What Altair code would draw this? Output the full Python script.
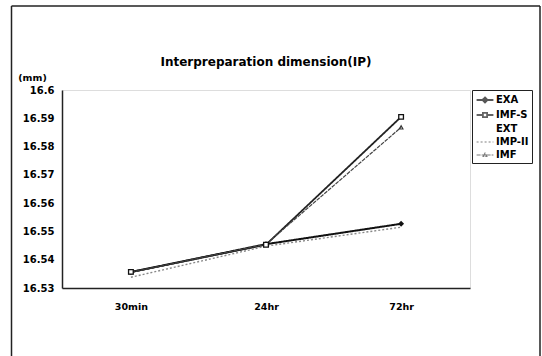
import altair as alt
import pandas as pd

times = ["30min", "24hr", "72hr"]
series = ["EXA", "IMF-S", "EXT", "IMP-II", "IMF"]
exa = [16.5356, 16.5455, 16.5527]
imf_s = [16.5357, 16.5453, 16.5905]
ext = [16.5355, 16.5455, 16.5525]
imp_ii = [16.5338, 16.5448, 16.5515]
imf = [16.5355, 16.5455, 16.5868]
y_ticks = [16.53, 16.54, 16.55, 16.56, 16.57, 16.58, 16.59, 16.6]

rows = []
for name, vals in zip(series, [exa, imf_s, ext, imp_ii, imf]):
    for i, (t, v) in enumerate(zip(times, vals)):
        rows.append({"time": t, "idx": i, "series": name, "value": v})
df = pd.DataFrame(rows)

FONT = "DejaVu Sans"

x_enc = alt.X("time:N", sort=times,
              scale=alt.Scale(type="point", padding=0.51),
              axis=alt.Axis(title=None, labelAngle=0, ticks=False, labelPadding=13,
                            labelFont=FONT, labelFontWeight="bold", labelFontSize=9.5,
                            labelColor="black", domainColor="#222", domainWidth=1.5))
y_enc = alt.Y("value:Q",
              scale=alt.Scale(domain=[16.53, 16.6], zero=False, nice=False),
              axis=alt.Axis(values=y_ticks, format=".2~f", ticks=False, grid=False,
                            labelPadding=8, labelFont=FONT, labelFontWeight="bold",
                            labelFontSize=10, labelColor="black",
                            domainColor="#222", domainWidth=1.5,
                            title="(mm)", titleAngle=0, titleX=-30, titleY=-13,
                            titleAlign="center", titleBaseline="middle",
                            titleFont=FONT, titleFontWeight="bold", titleFontSize=9.5,
                            titleColor="black"))

leg = alt.Legend(title=None, orient="none", legendX=410, legendY=0,
                 strokeColor="#222", fillColor="white",
                 padding=3, symbolOffset=3, rowPadding=1, symbolSize=144,
                 labelFont=FONT, labelFontWeight="bold", labelFontSize=10,
                 labelColor="black", labelOffset=4)
stroke_sc = alt.Scale(domain=series, range=["#111", "#222", "transparent", "#888", "#444"])
dash_sc = alt.Scale(domain=series, range=[[1, 0], [1, 0], [1, 0], [2, 2], [4, 1]])
width_sc = alt.Scale(domain=series, range=[2, 1.2, 0, 1, 1])
fill_sc = alt.Scale(domain=series, range=["#111", "white", "transparent", "transparent", "white"])
shape_sc = alt.Scale(domain=series, range=[
    "M-1.4,0L1.4,0M-0.4,0L0,-0.4L0.4,0L0,0.4Z",
    "M-1.4,0L-0.35,0M0.35,0L1.4,0M-0.35,-0.35L0.35,-0.35L0.35,0.35L-0.35,0.35Z",
    "M-1.4,0L1.4,0",
    "M-1.4,0L1.4,0",
    "M-1.4,0L1.4,0M-0.3,0.25L0,-0.3L0.3,0.25Z",
])

lines = alt.Chart(df).mark_line().encode(
    x=x_enc, y=y_enc,
    stroke=alt.Stroke("series:N", scale=stroke_sc, sort=series, legend=leg),
    strokeDash=alt.StrokeDash("series:N", scale=dash_sc, sort=series, legend=leg),
    strokeWidth=alt.StrokeWidth("series:N", scale=width_sc, sort=series, legend=leg),
    order=alt.Order("idx:Q"),
)

legend_layer = alt.Chart(df).mark_point(filled=False).encode(
    x=x_enc, y=y_enc,
    shape=alt.Shape("series:N", scale=shape_sc, sort=series, legend=leg),
    fill=alt.Fill("series:N", scale=fill_sc, sort=series, legend=leg),
    stroke=alt.Stroke("series:N", scale=stroke_sc, sort=series, legend=leg),
).transform_filter("datum.value > 100")

pt_exa = alt.Chart(df).mark_point(shape="diamond", filled=True, color="#111", size=35, opacity=1).encode(
    x=x_enc, y=y_enc).transform_filter("datum.series == 'EXA'")
pt_imfs = alt.Chart(df).mark_point(shape="square", filled=True, fill="white", stroke="#111",
                                   strokeWidth=1.3, size=22, opacity=1).encode(
    x=x_enc, y=y_enc).transform_filter("datum.series == 'IMF-S'")
pt_imf = alt.Chart(df).mark_point(shape="triangle-up", filled=False, stroke="#333",
                                  strokeWidth=1.1, size=14, opacity=1).encode(
    x=x_enc, y=y_enc).transform_filter("datum.series == 'IMF'")

one = pd.DataFrame({"a": [0]})
frame = alt.Chart(one).mark_rule(color="#222", strokeWidth=1.5)
frame_left = frame.encode(x=alt.value(-50.5), y=alt.value(-84), y2=alt.value(300))
frame_top = frame.encode(x=alt.value(-50.5), x2=alt.value(478), y=alt.value(-84))
frame_right = frame.encode(x=alt.value(478), y=alt.value(-84), y2=alt.value(300))

title = alt.Chart(one).mark_text(
    text="Interpreparation dimension(IP)", font=FONT, fontSize=12, fontWeight="bold",
    color="black", align="center", baseline="alphabetic"
).encode(x=alt.value(204), y=alt.value(-24))

chart = alt.layer(
    frame_left, frame_top, frame_right, title,
    lines, legend_layer, pt_exa, pt_imf, pt_imfs,
).properties(
    width=408, height=198,
    autosize=alt.AutoSizeParams(type="none"),
    padding={"left": 62, "top": 90, "right": 72, "bottom": 68},
).configure_view(
    stroke="#222", strokeWidth=1.5
).configure(background="white")

chart.save("out.html", embed_options={"renderer": "svg", "actions": False})
